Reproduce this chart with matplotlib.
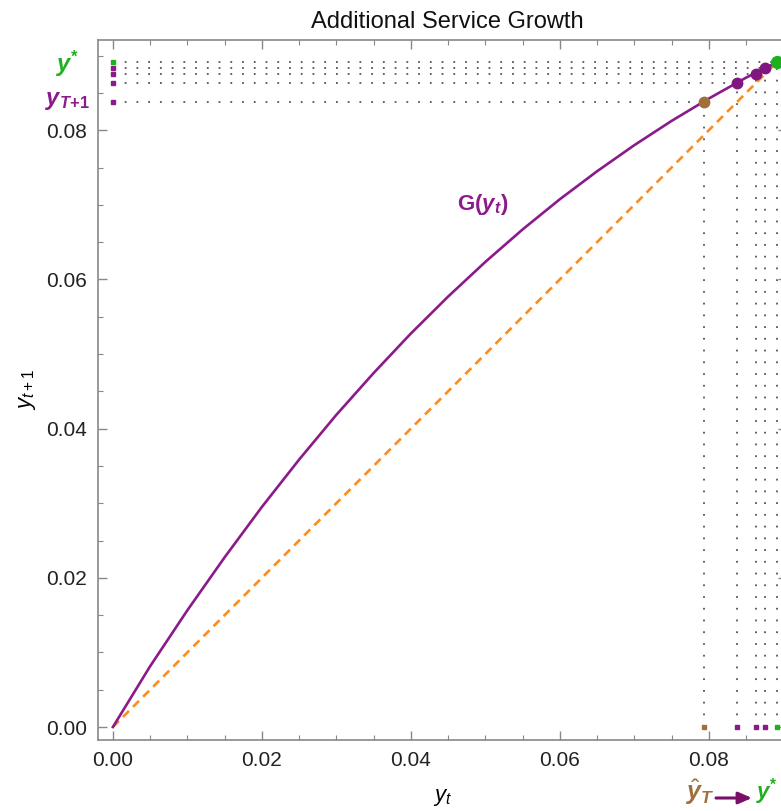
import matplotlib
matplotlib.use("Agg")
import matplotlib.pyplot as plt
import numpy as np

# curve G(y_t), values
curve_x = [0, 0.005, 0.010, 0.015, 0.020, 0.025, 0.030, 0.035, 0.040, 0.045,
           0.050, 0.055, 0.060, 0.065, 0.070, 0.075, 0.080, 0.085, 0.0891]
curve_y = [0, 0.00815, 0.01565, 0.02275, 0.0295, 0.03585, 0.04185, 0.04745, 0.05275, 0.0577,
           0.06235, 0.0667, 0.07075, 0.0745, 0.078, 0.08125, 0.08425, 0.08705, 0.0891]

# cobweb iterates: y_T -> G(y_T) -> ...
iter_x = [0.0793, 0.0838, 0.0863, 0.0876]
iter_y = [0.0838, 0.0863, 0.0876, 0.0884]
y_star = 0.0891

x_ticks = [0.00, 0.02, 0.04, 0.06, 0.08]
y_ticks = [0.00, 0.02, 0.04, 0.06, 0.08]

purple = "#8b1a8b"
orange = "#ff8c1a"
brown = "#a0703a"
green = "#1fb01f"
dots = "#555555"

plt.rcParams["font.family"] = ["Liberation Sans", "DejaVu Sans"]
plt.rcParams["mathtext.fontset"] = "custom"
plt.rcParams["mathtext.rm"] = "Liberation Sans"
plt.rcParams["mathtext.it"] = "Liberation Sans:italic"
plt.rcParams["mathtext.bf"] = "Liberation Sans:bold"
plt.rcParams["mathtext.bfit"] = "Liberation Sans:italic:bold"

fig = plt.figure(figsize=(7.81, 8.11), dpi=100)
ax = fig.add_axes([98 / 781, 71 / 811, 689 / 781, 700 / 811])
ax.set_xlim(-0.002, 0.0905)
ax.set_ylim(-0.00174, 0.0921)

# dotted guides
all_x = iter_x + [y_star]
all_y = iter_y + [y_star]
for xv, yv in zip(all_x, all_y):
    ax.plot([xv, xv], [0, yv], color=dots, lw=1.3, ls=(0, (1, 5.5)), zorder=1)
    ax.plot([0, xv], [yv, yv], color=dots, lw=1.3, ls=(0, (1, 5.5)), zorder=1)

# 45 degree line and G
ax.plot([0, y_star], [0, y_star], color=orange, lw=1.9, ls=(0, (3.2, 2.2)), zorder=2)
ax.plot(curve_x, curve_y, color=purple, lw=1.9, zorder=3, solid_joinstyle="round")

# points on curve
ax.plot(iter_x[0], iter_y[0], "o", color=brown, ms=7.5, zorder=4)
ax.plot(iter_x[1:], iter_y[1:], "o", color="#7f177f", ms=7.5, zorder=4, ls="none")
ax.plot(y_star, y_star, "o", color=green, ms=8.5, zorder=5)

# little squares on the axes
x_cols = [brown, purple, purple, purple, green]
for xv, c in zip(all_x, x_cols):
    ax.plot(xv, 0, "s", color=c, ms=3.5, zorder=4)
y_cols = [purple, purple, purple, purple, green]
for yv, c in zip(all_y, y_cols):
    ax.plot(0, yv, "s", color=c, ms=3.5, zorder=4)

ax.set_xticks(x_ticks)
ax.set_yticks(y_ticks)
ax.set_xticklabels([f"{v:.2f}" for v in x_ticks])
ax.set_yticklabels([f"{v:.2f}" for v in y_ticks])
ax.set_xticks(np.arange(0, 0.091, 0.005), minor=True)
ax.set_yticks(np.arange(0, 0.091, 0.005), minor=True)
ax.tick_params(which="both", direction="in", top=True, right=True, color="#888888")
ax.tick_params(which="major", length=6.5, width=1, labelsize=15, pad=8, labelcolor="#222222")
ax.tick_params(which="minor", length=3.5, width=0.8)
for s in ax.spines.values():
    s.set_color("#888888")
    s.set_linewidth(1.2)

fig.text(447 / 781, 1 - 22 / 811, "Additional Service Growth", ha="center", va="center",
         fontsize=17, color="#111111")
fig.text(443 / 781, 1 - 797 / 811, r"$y_t$", ha="center", va="center", fontsize=16)
fig.text(27 / 781, 1 - 390 / 811, r"$y_{t+1}$", ha="center", va="center", fontsize=16,
         rotation=90)

ax.text(0.0497, 0.0701, r"$\mathbf{G(}\mathbfit{y}_{\mathbfit{t}}\mathbf{)}$", color=purple,
        ha="center", va="center", fontsize=16)

fig.text(67 / 781, 1 - 64 / 811, r"$\mathbfit{y}^{\mathbf{*}}$", color=green,
         ha="center", va="center", fontsize=17)
fig.text(67 / 781, 1 - 101 / 811, r"$\mathbfit{y}_{\mathbfit{T}\mathbf{+1}}$", color=purple,
         ha="center", va="center", fontsize=17)

fig.text(700 / 781, 1 - 792 / 811, r"$\hat{\mathbfit{y}}_{\mathbfit{T}}$", color=brown,
         ha="center", va="center", fontsize=18)
ax.annotate("", xy=(752 / 781, 1 - 798 / 811), xytext=(716 / 781, 1 - 798 / 811),
            xycoords="figure fraction", textcoords="figure fraction",
            arrowprops=dict(arrowstyle="-|>,head_length=0.8,head_width=0.35",
                            color="#7a0f6a", lw=2.2, shrinkA=0, shrinkB=0))
fig.text(756 / 781, 1 - 792 / 811, r"$\mathbfit{y}^{\mathbf{*}}$", color=green,
         ha="left", va="center", fontsize=16)

fig.savefig("out.png", dpi=100)
